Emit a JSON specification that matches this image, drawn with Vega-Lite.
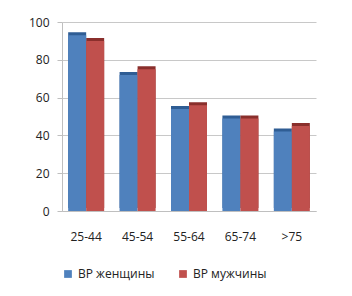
{
  "$schema": "https://vega.github.io/schema/vega-lite/v6.json",
  "width": 352,
  "height": 296,
  "autosize": {"type": "fit", "contains": "padding"},
  "padding": {"left": 28, "top": 16, "right": 36, "bottom": 16},
  "background": "white",
  "data": {"values": [
    {"age": "25-44", "series": "ВР женщины", "value": 93},
    {"age": "25-44", "series": "ВР мужчины", "value": 90},
    {"age": "45-54", "series": "ВР женщины", "value": 72},
    {"age": "45-54", "series": "ВР мужчины", "value": 75},
    {"age": "55-64", "series": "ВР женщины", "value": 54},
    {"age": "55-64", "series": "ВР мужчины", "value": 56},
    {"age": "65-74", "series": "ВР женщины", "value": 49},
    {"age": "65-74", "series": "ВР мужчины", "value": 49},
    {"age": ">75", "series": "ВР женщины", "value": 42},
    {"age": ">75", "series": "ВР мужчины", "value": 45}
  ]},
  "encoding": {
    "x": {"field": "age", "type": "nominal", "sort": null, "title": null,
      "scale": {"paddingInner": 0.3, "paddingOuter": 0.12},
      "axis": {"labelAngle": 0, "domain": true, "domainColor": "#bfbfbf", "ticks": false, "labelPadding": 20, "labelFontSize": 12, "labelColor": "#222", "labelFont": "Open Sans"}},
    "y": {"field": "value", "type": "quantitative", "title": null,
      "scale": {"domain": [0, 100]},
      "axis": {"values": [0, 20, 40, 60, 80, 100], "domainColor": "#bfbfbf", "ticks": true, "tickColor": "#bfbfbf", "tickSize": 5, "gridColor": "#c8c8c8", "labelFontSize": 12, "labelColor": "#222", "labelFont": "Open Sans", "labelPadding": 8}},
    "xOffset": {"field": "series", "type": "nominal"}
  },
  "layer": [
    {
      "mark": {"type": "bar", "xOffset": 4, "yOffset": -3},
      "encoding": {
        "color": {"field": "series", "type": "nominal",
          "scale": {"domain": ["ВР женщины", "ВР мужчины"], "range": ["#2f5d94", "#8a2f2c"]},
          "legend": null}
      }
    },
    {
      "mark": {"type": "bar"},
      "encoding": {
        "color": {"field": "series", "type": "nominal",
          "scale": {"domain": ["ВР женщины", "ВР мужчины"], "range": ["#4f81bd", "#c0504d"]},
          "legend": {"orient": "bottom", "direction": "horizontal", "title": null, "symbolType": "square", "symbolSize": 60, "labelFontSize": 12, "labelFont": "Open Sans", "labelColor": "#222", "offset": 26, "columnPadding": 22}}
      }
    }
  ],
  "resolve": {"scale": {"color": "independent"}},
  "config": {"view": {"stroke": null}}
}
